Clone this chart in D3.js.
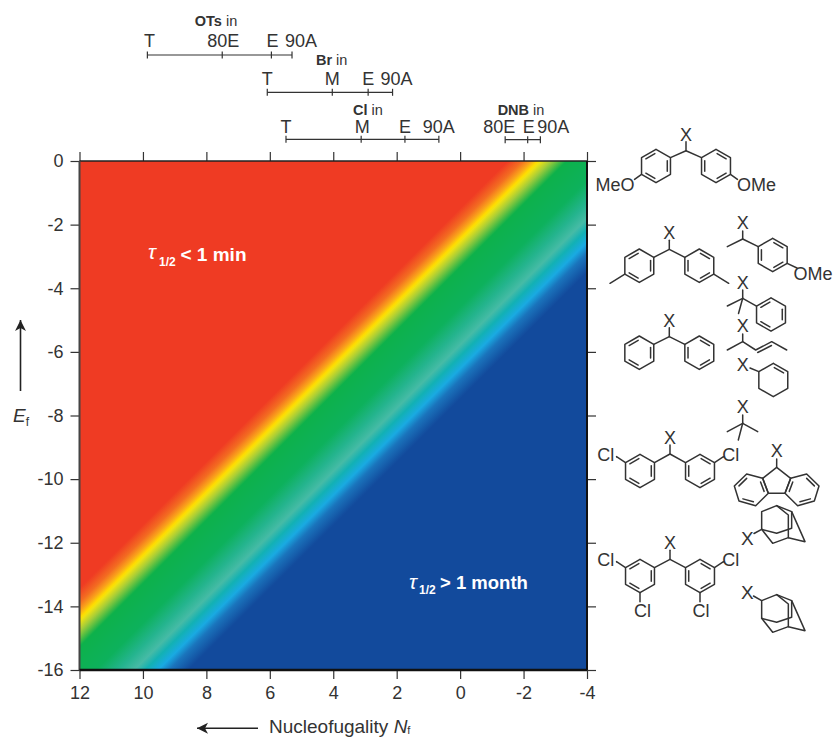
<!DOCTYPE html>
<html><head><meta charset="utf-8">
<script src="https://cdn.jsdelivr.net/npm/d3@7"></script>
<style>html,body{margin:0;padding:0;background:#fff}svg{display:block}text{font-family:"Liberation Sans",Arial,sans-serif;fill:#333}</style>
</head><body><div id="c"></div>
<script>
// ---- data ----
const xTicks = [12,10,8,6,4,2,0,-2,-4];
const yTicks = [0,-2,-4,-6,-8,-10,-12,-14,-16];
const fieldSums = [-1.5,-1.95,-2.25,-2.45,-2.55,-2.85,-3.35,-4.6,-5.3,-5.8,-6.15,-6.55,-6.9,-7.5];
const fieldColors = ["#EF3B23","#F36C21","#FAA61A","#FFDD00","#EEE213","#A5CD39","#0DB14B","#0DB15C","#24B48E","#46BBA6","#12B1B4","#19AAE2","#1A74BC","#124A9C"];
const scaleNames = ["OTs","Br","Cl","DNB"];
const otsN = [9.86,7.5,5.95,5.3];
const brN = [6.08,4.03,2.9,2.13];
const clN = [5.49,3.12,1.74,0.67];
const dnbN = [-1.42,-2.13,-2.53];
const otsSolvents = ["T","80E","E","90A"];
const brSolvents = ["T","M","E","90A"];
const clSolvents = ["T","M","E","90A"];
const dnbSolvents = ["80E","E","90A"];

// ---- layout ----
const W=833,H=738;
const x=d3.scaleLinear().domain([12,-4]).range([79.5,587]);
const y=d3.scaleLinear().domain([0,-16]).range([161,670]);
const ink="#333";
const svg=d3.select("#c").append("svg").attr("width",W).attr("height",H).attr("viewBox",`0 0 ${W} ${H}`);
const defs=svg.append("defs");

// field: Ef + Nf controls the half-life, so the colour runs along the diagonal
const s0=fieldSums[0], s1=fieldSums[fieldSums.length-1];
const off=d3.scaleLinear().domain([s0,s1]).range([0,1]);
const grad=defs.append("linearGradient").attr("id","field").attr("gradientUnits","userSpaceOnUse")
  .attr("x1",x(s0/2)).attr("y1",y(s0/2)).attr("x2",x(s1/2)).attr("y2",y(s1/2));
grad.selectAll("stop").data(d3.zip(fieldSums,fieldColors)).join("stop")
  .attr("offset",d=>off(d[0])).attr("stop-color",d=>d[1]);
svg.append("rect").attr("x",x(12)).attr("y",y(0)).attr("width",x(-4)-x(12)).attr("height",y(-16)-y(0)).attr("fill","url(#field)");

// axes
const fmt=d=>String(d);
function styleAxis(g,labels){
  g.selectAll("path.domain").remove();
  g.selectAll("line").attr("stroke",ink).attr("stroke-width",1.2);
  g.selectAll("text").attr("font-size",18).attr("fill",ink).style("display",labels?null:"none");
}
svg.append("g").attr("transform",`translate(${x(12)},0)`).call(d3.axisLeft(y).tickValues(yTicks).tickFormat(fmt).tickSize(9).tickPadding(7)).call(g=>styleAxis(g,true));
svg.append("g").attr("transform",`translate(0,${y(-16)})`).call(d3.axisBottom(x).tickValues(xTicks).tickFormat(fmt).tickSize(9).tickPadding(7)).call(g=>styleAxis(g,true));
svg.append("g").attr("transform",`translate(0,${y(0)})`).call(d3.axisTop(x).tickValues(xTicks).tickFormat("").tickSize(9)).call(g=>styleAxis(g,false));
svg.append("g").attr("transform",`translate(${x(-4)},0)`).call(d3.axisRight(y).tickValues(yTicks).tickFormat("").tickSize(9)).call(g=>styleAxis(g,false));
const spine=(x1,y1,x2,y2,w,c)=>svg.append("line").attr("x1",x1).attr("y1",y1).attr("x2",x2).attr("y2",y2).attr("stroke",c).attr("stroke-width",w);
spine(x(12),y(0),x(-4),y(0),1.6,"#222");
spine(x(12),y(0),x(12),y(-16),2,"#444");
spine(x(-4),y(0),x(-4),y(-16),2,"#111");
spine(x(12),y(-16),x(-4),y(-16),2.4,"#111");

// axis titles and arrows
function arrow(x1,y1,x2,y2){
  spine(x1,y1,x2,y2,1.6,"#222");
  const a=Math.atan2(y2-y1,x2-x1), l=11, w=5.5, b=8;
  const px=(d,s)=>[x2-d*Math.cos(a)-s*Math.sin(a), y2-d*Math.sin(a)+s*Math.cos(a)];
  svg.append("path").attr("fill","#222").attr("d","M"+[[x2,y2],px(l,w),px(b,0),px(l,-w)].map(p=>p.join(",")).join("L")+"Z");
}
arrow(20.5,391,20.5,320);
arrow(258,728.3,197,728.3);
const ef=svg.append("text").attr("x",13).attr("y",421.5).attr("font-size",19);
ef.append("tspan").attr("font-style","italic").text("E");
ef.append("tspan").attr("font-size",12).attr("dy",4).text("f");
const nf=svg.append("text").attr("x",269).attr("y",733).attr("font-size",19);
nf.append("tspan").text("Nucleofugality ");
nf.append("tspan").attr("font-style","italic").text("N");
nf.append("tspan").attr("font-size",11).attr("dy",1).text("f");

// solvent scales
const scales=[
 {name:scaleNames[0],vals:otsN,labs:otsSolvents,barY:55,base:46.7,titleX:216,titleY:26,dx:[2,1,1,9]},
 {name:scaleNames[1],vals:brN,labs:brSolvents,barY:92.3,base:85,titleX:331.7,titleY:65,dx:[0,0,0,4]},
 {name:scaleNames[2],vals:clN,labs:clSolvents,barY:139.3,base:132.7,titleX:368,titleY:115,dx:[0,1,0,0]},
 {name:scaleNames[3],vals:dnbN,labs:dnbSolvents,barY:139.7,base:133,titleX:521,titleY:115,dx:[-6,1,13]}
];
scales.forEach(s=>{
  const g=svg.append("g");
  g.append("line").attr("x1",x(s.vals[0])).attr("x2",x(s.vals[s.vals.length-1])).attr("y1",s.barY).attr("y2",s.barY).attr("stroke",ink).attr("stroke-width",1.2);
  g.selectAll("line.t").data(s.vals).join("line").attr("class","t").attr("x1",d=>x(d)).attr("x2",d=>x(d)).attr("y1",s.barY-3.5).attr("y2",s.barY+3.5).attr("stroke",ink).attr("stroke-width",1.2);
  g.selectAll("text.l").data(s.labs).join("text").attr("class","l").attr("x",(d,i)=>x(s.vals[i])+s.dx[i]).attr("y",s.base).attr("text-anchor","middle").attr("font-size",18).text(d=>d);
  const t=g.append("text").attr("x",s.titleX).attr("y",s.titleY).attr("text-anchor","middle").attr("font-size",14.5);
  t.append("tspan").attr("font-weight","bold").text(s.name);
  t.append("tspan").text(" in");
});

// half-life notes
function note(tx,ty,subx,suby,labx,laby,label,fs){
  const g=svg.append("g");
  g.append("text").attr("x",tx).attr("y",ty).attr("font-size",21).attr("font-style","italic").attr("font-family","Liberation Serif,serif").style("fill","#fff").text("τ");
  g.append("text").attr("x",subx).attr("y",suby).attr("font-size",12).attr("font-weight","bold").style("fill","#fff").text("1/2");
  g.append("text").attr("x",labx).attr("y",laby).attr("font-size",fs).attr("font-weight","bold").style("fill","#fff").text(label);
}
note(148,259,159,265.5,180.5,261,"< 1 min",19);
note(409,589,419,594,440,589,"> 1 month",18.5);

// ---- structures ----
const chem=svg.append("g").attr("stroke",ink).attr("stroke-width",1.5).attr("fill","none").attr("stroke-linecap","round").attr("stroke-linejoin","round");
const bond=(...p)=>chem.append("path").attr("d","M"+p.map(q=>q.join(",")).join("L"));
const atom=(t,cx,cy,fs)=>svg.append("text").attr("x",cx).attr("y",cy+(fs||18)*0.36).attr("text-anchor","middle").attr("font-size",fs||18).text(t);
const R=16.7;
function ring(cx,cy,doubles,r){
  r=r||R;
  const v=d3.range(6).map(i=>{const a=-Math.PI/2+i*Math.PI/3;return [cx+r*Math.cos(a),cy+r*Math.sin(a)];});
  bond(...v,v[0]);
  doubles.forEach(e=>{
    const a=v[e],b=v[(e+1)%6];
    const sh=p=>[cx+(p[0]-cx)*0.78,cy+(p[1]-cy)*0.78];
    const A=sh(a),B=sh(b),tr=0.1;
    bond([A[0]+(B[0]-A[0])*tr,A[1]+(B[1]-A[1])*tr],[B[0]-(B[0]-A[0])*tr,B[1]-(B[1]-A[1])*tr]);
  });
  return v;
}
const LD=[5,1,3], RD=[0,2,4];
function diaryl(cxC,cyC,ringY){
  atom("X",cxC,cyC-16.5);
  bond([cxC,cyC-9],[cxC,cyC]);
  const l=ring(cxC-30,ringY,LD), r=ring(cxC+30,ringY,RD);
  bond(l[1],[cxC,cyC],r[5]);
  return {l,r};
}
let m=diaryl(686,150.7,166);
bond(m.l[4],[m.l[4][0]-7,m.l[4][1]+5]);
bond(m.r[2],[m.r[2][0]+7,m.r[2][1]+5]);
atom("MeO",615,185); atom("OMe",756.5,185);
m=diaryl(669.3,249.3,265.7);
bond(m.l[4],[610,283.3]); bond(m.r[2],[728.7,283.3]);
diaryl(669.3,336.7,352.7);
m=diaryl(670,454,471);
bond(m.l[5],[m.l[5][0]-9,m.l[5][1]-6]); bond(m.r[1],[m.r[1][0]+9,m.r[1][1]-6]);
atom("Cl",605.7,454.5); atom("Cl",730.7,454.5);
m=diaryl(670,559.3,576);
bond(m.l[5],[m.l[5][0]-9,m.l[5][1]-6]); bond(m.r[1],[m.r[1][0]+9,m.r[1][1]-6]);
bond(m.l[3],[m.l[3][0],m.l[3][1]+9]); bond(m.r[3],[m.r[3][0],m.r[3][1]+9]);
atom("Cl",605.7,559.5); atom("Cl",730.7,559.5); atom("Cl",642.5,610.5); atom("Cl",701,610.5);
atom("X",742.7,222.7);
bond([742.7,231],[742.7,239]);
let v=ring(772.7,255,RD);
bond([727.3,246.7],[742.7,239],v[5]);
bond(v[2],[797,268]); atom("OMe",813,274);
atom("X",742.7,282.3);
v=ring(771,314.5,[5,1,3]);
bond([742.7,290],[742.7,298.3]);
bond([727.3,306],[742.7,298.3],v[5]); bond([742.7,298.3],[738.5,313.5]);
atom("X",742.7,325.7);
bond([742.7,334],[742.7,341.7]);
bond([727.3,350],[742.7,341.7],[755.7,350],[771.7,341.7],[786.7,350]);
bond([757.7,352.5],[771.5,345.5]);
atom("X",742.7,365);
v=ring(773.3,380,[]);
bond([750,368],v[5]);
{const c=[773.3,380],k=0.78,a=v[0],b=v[1];bond([c[0]+(a[0]-c[0])*k+1,c[1]+(a[1]-c[1])*k+.6],[c[0]+(b[0]-c[0])*k-1,c[1]+(b[1]-c[1])*k-.6]);}
atom("X",742.7,406.7);
bond([742.7,415],[742.7,423.3]);
bond([727.3,431.7],[742.7,423.3],[757.7,431.7]); bond([742.7,423.3],[738.3,440]);
const z3=(a,b)=>[590+a/3,390+b/3];
atom("X",776.7,451);
bond([776.7,459],z3(560,232));
bond(z3(518,265),z3(560,232),z3(602,265));
bond(z3(518,265),z3(535,310),z3(585,310),z3(602,265));
const fl=[z3(518,265),z3(535,310),z3(497,347),z3(447,333),z3(433,288),z3(470,252)];
const fr=[z3(602,265),z3(585,310),z3(623,347),z3(673,333),z3(687,288),z3(650,252)];
function polyRing(P,ds){
  bond(...P,P[0]);
  const c=[d3.mean(P,p=>p[0]),d3.mean(P,p=>p[1])],k=0.78;
  const sh=p=>[c[0]+(p[0]-c[0])*k,c[1]+(p[1]-c[1])*k];
  ds.forEach(e=>{const A=sh(P[e]),B=sh(P[(e+1)%6]);bond([A[0]+(B[0]-A[0])*.1,A[1]+(B[1]-A[1])*.1],[B[0]-(B[0]-A[0])*.1,B[1]-(B[1]-A[1])*.1]);});
}
polyRing(fl,[0,2,4]); polyRing(fr,[0,2,4]);
function adamantyl(ox,oy){
  const z=(a,b)=>[730+a/3+ox,495+b/3+oy];
  const A=z(95,103),B=z(95,50),C=z(140,32),D=z(185,50),E=z(175,128),F=z(128,145),G=z(225,140),H=z(140,115),I=z(185,100),J=z(175,60);
  bond(A,B,C,D,G,E,F,A); bond(A,H,I,D); bond(C,J,E);
  return {A,B};
}
let ad=adamantyl(0,0);
atom("X",747.3,538.5,19); bond([754,533.5],ad.A);
ad=adamantyl(0,89);
atom("X",747.3,591.7,19); bond([753.5,596],ad.B);
</script></body></html>
